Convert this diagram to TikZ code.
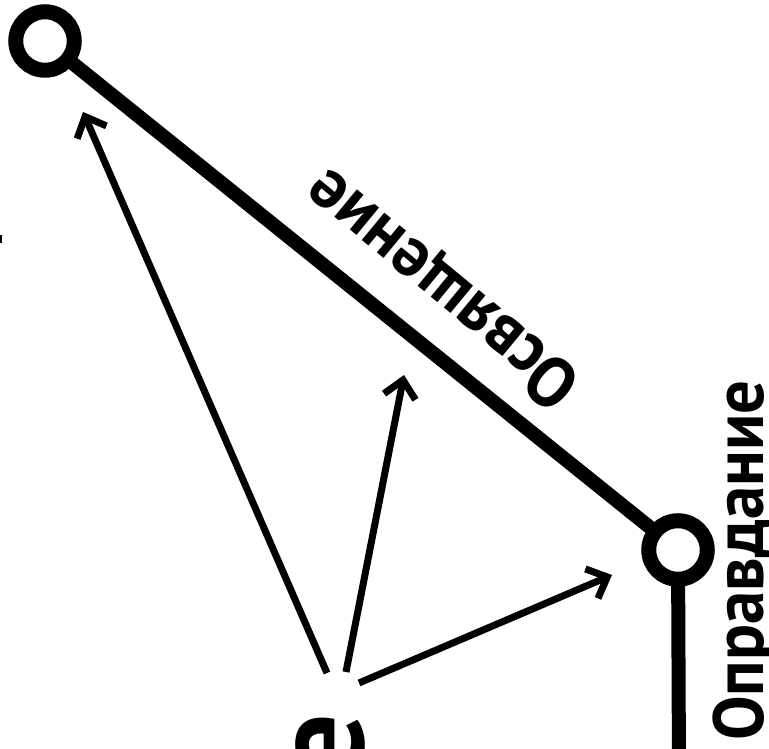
\documentclass[tikz,border=0pt]{standalone}
\usepackage{fontspec}
\setmainfont{PT Sans}
\usetikzlibrary{arrows.meta}
\tikzset{
  ring/.style={circle,draw=black,line width=15pt,minimum size=58.5pt,inner sep=0pt,outer sep=0pt,fill=white},
  thickline/.style={line width=14pt,black},
  pointer/.style={line width=7pt,black,-{Straight Barb[length=17pt,width=32pt]}},
  lbl/.style={inner sep=0pt,font=\fontsize{71}{78}\selectfont\bfseries}
}
\begin{document}
\begin{tikzpicture}[x=1pt,y=1pt]
\useasboundingbox (0,0) rectangle (769,749);
\clip (0,0) rectangle (769,749);
\fill[white] (0,0) rectangle (769,749);
% nodes
\coordinate (bot) at (679,-20);
\draw[thickline] (678,199) -- (bot);
\draw[thickline] (45,708) -- (678,199);
\node[ring] (a) at (45,708) {};
\node[ring] (b) at (678,199) {};
% arrows
\coordinate (t1) at (327,76);  \coordinate (h1) at (83,637);
\coordinate (t2) at (346,77);  \coordinate (h2) at (404,374);
\coordinate (t3) at (359,66);  \coordinate (h3) at (612,174);
\draw[pointer] (t1) -- (h1);
\draw[pointer] (t2) -- (h2);
\draw[pointer] (t3) -- (h3);
% labels
\node[lbl,anchor=base west,rotate=140.5] (osv) at (585,371) {\scalebox{0.94}[1]{Освящение}};
\node[lbl,anchor=base west,rotate=90] (opr) at (763,8) {\scalebox{0.94}[1]{Оправдание}};
\node[inner sep=0pt,anchor=base east,rotate=90,font=\fontsize{132}{140}\selectfont\bfseries] (e) at (363,36) {e};
\fill[black] (0,506) rectangle (2,514);
\end{tikzpicture}
\end{document}
